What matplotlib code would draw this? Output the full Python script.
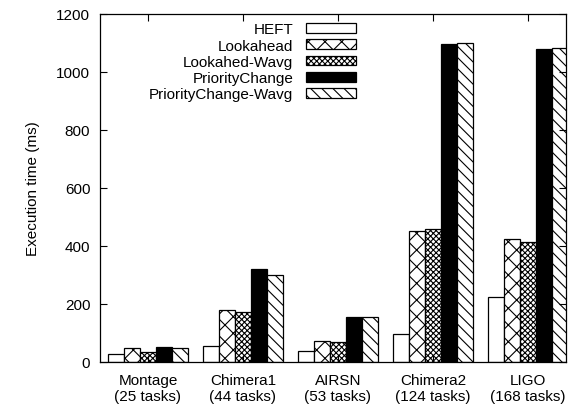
import numpy as np
import matplotlib
matplotlib.use("Agg")
import matplotlib.pyplot as plt

plt.rcParams['font.family'] = ['Liberation Sans', 'DejaVu Sans']
plt.rcParams['hatch.linewidth'] = 0.8

workflows = ["Montage\n(25 tasks)", "Chimera1\n(44 tasks)", "AIRSN\n(53 tasks)",
             "Chimera2\n(124 tasks)", "LIGO\n(168 tasks)"]
heft = [27, 56, 37, 97, 225]
lookahead = [48, 179, 73, 453, 423]
lookahead_wavg = [35, 171, 68, 458, 415]
priority_change = [53, 320, 156, 1097, 1080]
priority_change_wavg = [48, 299, 156, 1100, 1082]

series = [
    ("HEFT", heft, "white", ""),
    ("Lookahead", lookahead, "white", "xx"),
    ("Lookahed-Wavg", lookahead_wavg, "white", "xxxxxx"),
    ("PriorityChange", priority_change, "black", ""),
    ("PriorityChange-Wavg", priority_change_wavg, "white", "\\\\\\"),
]

fs = 11
fig = plt.figure(figsize=(5.75, 4.1), dpi=100)
ax = fig.add_axes([100 / 575, 47 / 410, 466 / 575, 348 / 410])

x = np.arange(len(workflows))
w = 0.168
for i, (name, vals, fc, hatch) in enumerate(series):
    ax.bar(x + (i - 2) * w, vals, w, color=fc, edgecolor="black", hatch=hatch,
           linewidth=0.9, label=name)

ax.set_xlim(-0.505, 4.4)
ax.set_ylim(0, 1200)
ax.set_yticks(range(0, 1201, 200))
ax.set_xticks(x)
ax.set_xticklabels(workflows, fontsize=fs, linespacing=1.2)
ax.tick_params(axis="y", labelsize=fs, pad=7)
ax.tick_params(direction="in", length=5, top=True, right=True, width=0.8)
ax.tick_params(axis="x", pad=8)
ax.set_ylabel("Execution time (ms)", fontsize=fs, labelpad=12)
for s in ax.spines.values():
    s.set_linewidth(0.9)

ax.legend(loc="upper right", bbox_to_anchor=(0.556, 0.985), frameon=False,
          markerfirst=False, fontsize=fs, handlelength=3.3, handleheight=0.6,
          labelspacing=0.15, borderaxespad=0.0, borderpad=0.2, handletextpad=0.8)

fig.savefig("out.png", dpi=100)
